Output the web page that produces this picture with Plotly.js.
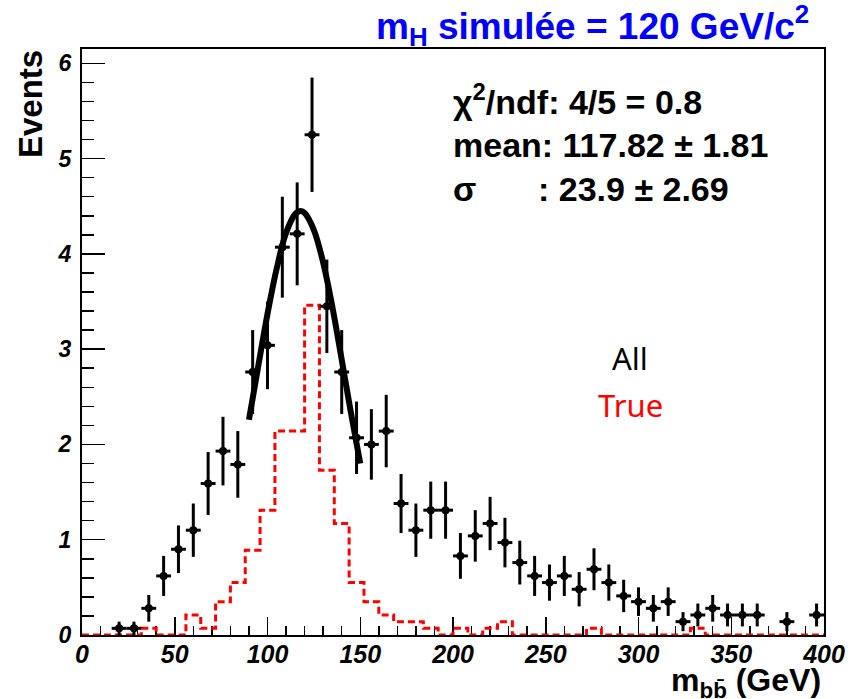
<!DOCTYPE html>
<html>
<head>
<meta charset="utf-8">
<script src="https://cdn.plot.ly/plotly-3.0.1.min.js"></script>
<style>html,body{margin:0;padding:0;background:#fff;}#chart{width:860px;height:699px;}</style>
</head>
<body>
<div id="chart"></div>
<script>
// ---- data ----
// "All" events: bin centres (GeV), values, vertical errors
const allX = [20,28,36,44,52,60,68,76,84,92,100,108,116,124,132,140,148,156,164,172,180,188,196,204,212,220,228,236,244,252,260,268,276,284,292,300,308,316,324,332,340,348,356,364,380,396];
const allY = [0.07,0.07,0.28,0.62,0.90,1.10,1.59,1.93,1.79,2.76,3.04,4.07,4.21,5.25,3.45,2.76,2.07,2.00,2.14,1.38,1.10,1.31,1.31,0.83,1.04,1.17,0.97,0.76,0.62,0.55,0.62,0.48,0.69,0.55,0.41,0.35,0.28,0.35,0.14,0.21,0.28,0.21,0.21,0.21,0.14,0.21];
const allErr = [0.07,0.07,0.14,0.21,0.25,0.28,0.33,0.36,0.35,0.44,0.46,0.53,0.54,0.60,0.49,0.44,0.38,0.37,0.38,0.31,0.28,0.30,0.30,0.24,0.27,0.28,0.26,0.23,0.21,0.19,0.21,0.18,0.22,0.19,0.17,0.15,0.14,0.15,0.10,0.12,0.14,0.12,0.12,0.12,0.10,0.12];
const binHalfWidth = 4;

// "True" histogram: 50 bins of 8 GeV from 0 to 400
const trueEdges = [0,8,16,24,32,40,48,56,64,72,80,88,96,104,112,120,128,136,144,152,160,168,176,184,192,200,208,216,224,232,240,248,256,264,272,280,288,296,304,312,320,328,336,344,352,360,368,376,384,392,400];
const trueY = [0,0,0,0,0.07,0,0,0.21,0.07,0.35,0.55,0.89,1.31,2.14,2.14,3.46,1.73,1.17,0.55,0.35,0.21,0.14,0.14,0.07,0,0.07,0,0.07,0.14,0,0,0,0,0,0.07,0,0,0,0,0,0,0.07,0,0,0,0,0,0,0,0];

// Gaussian fit curve (range 90-150 GeV)
const fitX = [90,95,100,105,110,115,118,120,125,130,135,140,145,150];
const fitY = [2.26,2.82,3.37,3.85,4.22,4.42,4.45,4.43,4.25,3.91,3.44,2.89,2.33,1.80];

const xTickVals = [0,50,100,150,200,250,300,350,400];
const yTickVals = [0,1,2,3,4,5,6];

// ---- build step path for the histogram ----
const stepX = [], stepY = [];
for (let i = 0; i < trueY.length; i++) {
  stepX.push(trueEdges[i], trueEdges[i+1]);
  stepY.push(trueY[i], trueY[i]);
}

const traces = [
  {
    x: stepX, y: stepY, type: 'scatter', mode: 'lines',
    line: {color: '#ff0000', width: 3, dash: '7px,4px'},
    hoverinfo: 'skip', showlegend: false
  },
  {
    x: allX, y: allY, type: 'scatter', mode: 'markers',
    marker: {color: '#000', size: 8, symbol: 'circle'},
    error_y: {type: 'data', array: allErr, visible: true, color: '#000', thickness: 3, width: 0},
    error_x: {type: 'constant', value: binHalfWidth, visible: true, color: '#000', thickness: 3, width: 0},
    showlegend: false, cliponaxis: false
  },
  {
    x: fitX, y: fitY, type: 'scatter', mode: 'lines',
    line: {color: '#000', width: 6, shape: 'spline'},
    showlegend: false
  }
];

const tickFont = {family: '"Liberation Sans", Arial, sans-serif', size: 25, color: '#000', weight: 'bold', style: 'italic'};
const boldFont = (size, color) => ({family: '"Liberation Sans", Arial, sans-serif', size: size, color: color || '#000', weight: 'bold'});

// plot-area helpers: pixel -> paper
const L = 82, R = 824, T = 49, B = 635;
const px = v => (v - L) / (R - L);
const py = v => (B - v) / (B - T);

const layout = {
  width: 860, height: 699,
  margin: {l: L, r: 860 - R, t: T, b: 699 - B, pad: 0},
  paper_bgcolor: '#fff', plot_bgcolor: '#fff',
  showlegend: false,
  xaxis: {
    range: [0, 400], tickvals: xTickVals, ticktext: xTickVals.map(String),
    ticks: 'inside', ticklen: 18, tickwidth: 1.5, tickcolor: '#000',
    minor: {dtick: 10, tick0: 0, ticks: 'inside', ticklen: 9, tickwidth: 1.5, tickcolor: '#000'},
    showline: true, linewidth: 2, linecolor: '#000', mirror: true,
    showgrid: false, zeroline: false, tickfont: tickFont, ticklabelstandoff: -4,
    layer: 'below traces', fixedrange: true
  },
  yaxis: {
    range: [0, 6.15], tickvals: yTickVals, ticktext: yTickVals.map(String),
    ticks: 'inside', ticklen: 23, tickwidth: 1.5, tickcolor: '#000',
    minor: {dtick: 0.2, tick0: 0, ticks: 'inside', ticklen: 12, tickwidth: 1.5, tickcolor: '#000'},
    showline: true, linewidth: 2, linecolor: '#000', mirror: true,
    showgrid: false, zeroline: false, tickfont: Object.assign({}, tickFont, {size: 23}), ticklabelstandoff: 4,
    layer: 'below traces', fixedrange: true
  },
  annotations: [
    {text: 'm<sub>H</sub> simulée = 120 GeV/c<sup>2</sup>', xref: 'paper', yref: 'paper',
     x: px(811), y: py(25), xanchor: 'right', yanchor: 'middle', showarrow: false, font: boldFont(37, '#0000ff')},
    {text: 'Events', xref: 'paper', yref: 'paper', x: px(31), y: py(104), xanchor: 'center', yanchor: 'middle',
     textangle: -90, showarrow: false, font: boldFont(33)},
    {text: 'm<sub>bb\u0304</sub> (GeV)', xref: 'paper', yref: 'paper', x: px(823), y: py(660),
     xanchor: 'right', yanchor: 'top', showarrow: false, font: boldFont(32)},
    {text: '\u03c7<sup>2</sup>/ndf: 4/5 = 0.8', xref: 'paper', yref: 'paper', x: px(451), y: py(100),
     xanchor: 'left', yanchor: 'middle', showarrow: false, font: boldFont(34)},
    {text: 'mean: 117.82 \u00b1 1.81', xref: 'paper', yref: 'paper', x: px(451), y: py(145),
     xanchor: 'left', yanchor: 'middle', showarrow: false, font: boldFont(34)},
    {text: '\u03c3', xref: 'paper', yref: 'paper', x: px(451), y: py(189),
     xanchor: 'left', yanchor: 'middle', showarrow: false, font: boldFont(34)},
    {text: ': 23.9 \u00b1 2.69', xref: 'paper', yref: 'paper', x: px(536), y: py(189),
     xanchor: 'left', yanchor: 'middle', showarrow: false, font: boldFont(34)},
    {text: 'All', xref: 'paper', yref: 'paper', x: px(630), y: py(358), xanchor: 'center', yanchor: 'middle',
     showarrow: false, font: {family: '"Noto Sans", "Open Sans", sans-serif', size: 31, color: '#000'}},
    {text: 'True', xref: 'paper', yref: 'paper', x: px(630), y: py(405), xanchor: 'center', yanchor: 'middle',
     showarrow: false, font: {family: '"Noto Sans", "Open Sans", sans-serif', size: 31, color: '#ff0000'}}
  ]
};

Plotly.newPlot('chart', traces, layout, {displayModeBar: false, staticPlot: true});
</script>
</body>
</html>
